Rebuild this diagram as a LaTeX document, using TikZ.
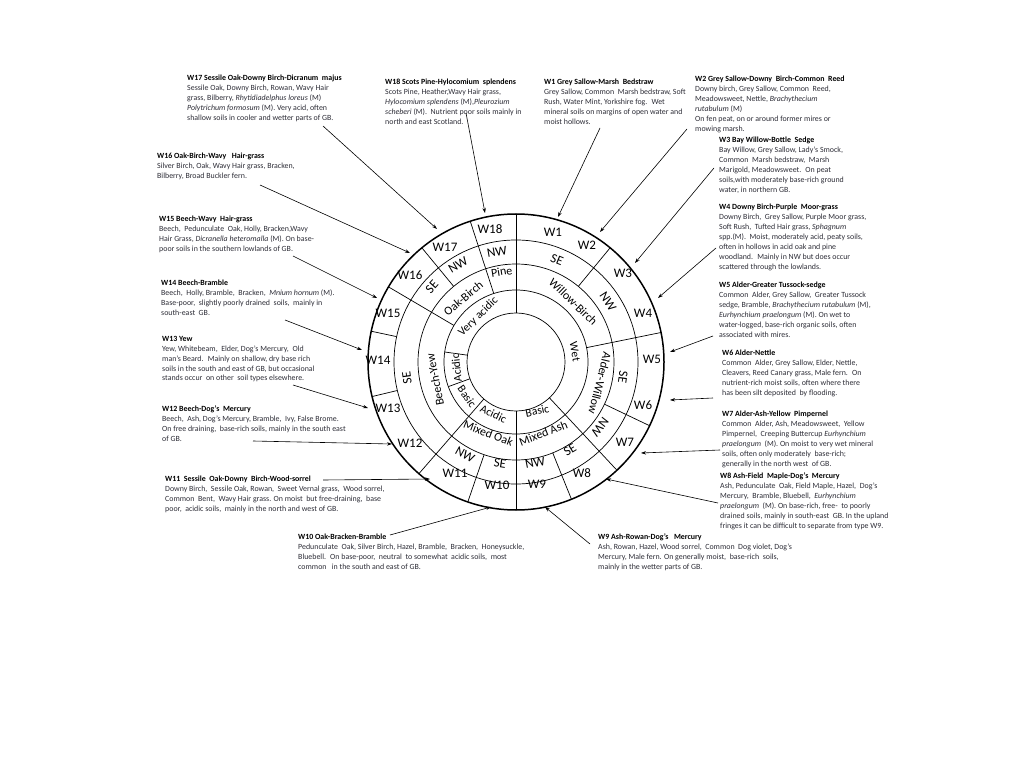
\documentclass[tikz,border=0pt]{standalone}
\usepackage{fontspec}
\setmainfont{Carlito}
\usetikzlibrary{arrows.meta}
\definecolor{bodyc}{RGB}{45,45,55}
\newcommand\blktitle[1]{\textcolor{black}{\textbf{#1}}}
\begin{document}
\begin{tikzpicture}[x=1pt,y=1pt,
 blk/.style={anchor=north west,inner sep=0pt,align=left,font=\fontsize{7.9}{9.9}\selectfont,text=bodyc},
 wl/.style={inner sep=0pt,font=\fontsize{13}{15}\selectfont},
 dl/.style={inner sep=0pt,font=\fontsize{13}{15}\selectfont},
 gl/.style={inner sep=0pt,font=\fontsize{12}{14}\selectfont},
 sl/.style={inner sep=0pt,font=\fontsize{11.5}{13}\selectfont},
 ringline/.style={line width=0.7pt},
 arr/.style={-{Stealth[length=5pt,width=3.4pt]},line width=0.6pt}]
\useasboundingbox[fill=white] (0,0) rectangle (1023,-767);

% ---------------- wheel ----------------
\begin{scope}[shift={(516,-362)}]
 \draw[ringline] (0,0) circle[radius=49];
 \draw[ringline] (0,0) circle[radius=72];
 \draw[ringline] (0,0) circle[radius=98];
 \draw[ringline] (0,0) circle[radius=122];
 \draw[line width=1.5pt] (0,0) circle[radius=148];
 \foreach \a in {90,229,270,313} \draw[ringline] (\a:49) -- (\a:148);
 \foreach \a in {108,149.5,11.5} \draw[ringline] (\a:72) -- (\a:148);
 \foreach \a in {129.5,251,292,334.5,50.5} \draw[ringline] (\a:98) -- (\a:148);
 \foreach \a in {168,193.5} \draw[ringline] (\a:122) -- (\a:148);
 \foreach \a in {172,200} \draw[ringline] (\a:49) -- (\a:72);
\end{scope}

% soil ring
\node[sl,rotate=44] (sva) at (478.3,-316.7) {Very acidic};
\node[sl,rotate=96] (sac1) at (456.5,-368) {Acidic};
\node[sl,rotate=-55.5] (sba1) at (467,-396.5) {Basic};
\node[sl,rotate=-25] (sac2) at (493.5,-414) {Acidic};
\node[sl,rotate=12] (sba2) at (537.3,-411) {Basic};
\node[sl,rotate=-80] (swet) at (575,-351.7) {Wet};

% woodland group ring
\node[gl,rotate=9] (gpine) at (501.7,-271.7) {Pine};
\node[gl,rotate=40] (goak) at (463.3,-298.3) {Oak-Birch};
\node[gl,rotate=101] (gbeech) at (435,-380) {Beech-Yew};
\node[gl,rotate=-21] (gmoak) at (488.3,-433.3) {Mixed Oak};
\node[gl,rotate=21] (gmash) at (543.3,-433.3) {Mixed Ash};
\node[gl,rotate=-104] (galder) at (600,-383.3) {Alder-Willow};
\node[gl,rotate=-44] (gwillow) at (573.3,-301.7) {Willow-Birch};

% NW / SE ring
\node[dl,rotate=10] (d1) at (497,-252) {NW};
\node[dl,rotate=31] (d2) at (458,-265) {NW};
\node[dl,rotate=48] (d3) at (432,-287) {SE};
\node[dl,rotate=98] (d4) at (407,-378) {SE};
\node[dl,rotate=-29] (d5) at (465,-455) {NW};
\node[dl,rotate=-9] (d6) at (500,-463) {SE};
\node[dl,rotate=11] (d7) at (535,-463) {NW};
\node[dl,rotate=31] (d8) at (570,-450) {SE};
\node[dl,rotate=-128] (d9) at (600,-427) {NW};
\node[dl,rotate=-98] (d10) at (623,-377) {SE};
\node[dl,rotate=-57] (d11) at (608,-302) {NW};
\node[dl,rotate=-22] (d12) at (557,-260) {SE};

% W ring
\node[wl] (w18) at (490,-229) {W18};
\node[wl] (w1) at (553,-232) {W1};
\node[wl] (w2) at (587,-245) {W2};
\node[wl] (w3) at (623,-273) {W3};
\node[wl] (w4) at (643,-313) {W4};
\node[wl] (w5) at (652,-359) {W5};
\node[wl] (w6) at (643,-405) {W6};
\node[wl] (w7) at (625,-442) {W7};
\node[wl] (w8) at (582,-473) {W8};
\node[wl] (w9) at (537,-484) {W9};
\node[wl] (w10) at (497,-485) {W10};
\node[wl] (w11) at (455,-473) {W11};
\node[wl] (w12) at (410,-443) {W12};
\node[wl] (w13) at (388,-408) {W13};
\node[wl] (w14) at (378,-360) {W14};
\node[wl] (w15) at (388,-313) {W15};
\node[wl] (w16) at (410,-275) {W16};
\node[wl] (w17) at (445,-247) {W17};

% ---------------- text blocks ----------------
\node[blk] (t17) at (187,-75) {\blktitle{W17 Sessile Oak-Downy Birch-Dicranum \ majus}\\
Sessile Oak, Downy Birch, Rowan, Wavy Hair\\
grass, Bilberry, \textit{Rhytidiadelphus loreus} (M)\\
\textit{Polytrichum formosum} (M). Very acid, often\\
shallow soils in cooler and wetter parts of GB.};

\node[blk] (t18) at (385,-79) {\blktitle{W18 Scots Pine-Hylocomium \ splendens}\\
Scots Pine, Heather,Wavy Hair grass,\\
\textit{Hylocomium splendens} (M),\textit{Pleurozium}\\
\textit{scheberi} (M). \ Nutrient poor soils mainly in\\
north and east Scotland.};

\node[blk] (t1) at (544,-79) {\blktitle{W1 Grey Sallow-Marsh \ Bedstraw}\\
Grey Sallow, Common \ Marsh bedstraw, Soft\\
Rush, Water Mint, Yorkshire fog. \ Wet\\
mineral soils on margins of open water and\\
moist hollows.};

\node[blk] (t2) at (695,-76) {\blktitle{W2 Grey Sallow-Downy \ Birch-Common \ Reed}\\
Downy birch, Grey Sallow, Common \ Reed,\\
Meadowsweet, Nettle, \textit{Brachythecium}\\
\textit{rutabulum} (M)\\
On fen peat, on or around former mires or\\
mowing marsh.};

\node[blk] (t3) at (719,-137) {\blktitle{W3 Bay Willow-Bottle \ Sedge}\\
Bay Willow, Grey Sallow, Lady's Smock,\\
Common \ Marsh bedstraw, \ Marsh\\
Marigold, Meadowsweet. \ On peat\\
soils,with moderately base-rich ground\\
water, in northern GB.};

\node[blk] (t4) at (719,-204) {\blktitle{W4 Downy Birch-Purple \ Moor-grass}\\
Downy Birch, \ Grey Sallow, Purple Moor grass,\\
Soft Rush, \ Tufted Hair grass, \textit{Sphagnum}\\
spp.(M). \ Moist, moderately acid, peaty soils,\\
often in hollows in acid oak and pine\\
woodland. \ Mainly in NW but does occur\\
scattered through the lowlands.};

\node[blk] (t5) at (719,-282) {\blktitle{W5 Alder-Greater Tussock-sedge}\\
Common \ Alder, Grey Sallow, \ Greater Tussock\\
sedge, Bramble, \textit{Brachythecium rutabulum} (M),\\
\textit{Eurhynchium praelongum} (M). On wet to\\
water-logged, base-rich organic soils, often\\
associated with mires.};

\node[blk] (t6) at (722,-350) {\blktitle{W6 Alder-Nettle}\\
Common \ Alder, Grey Sallow, Elder, Nettle,\\
Cleavers, Reed Canary grass, Male fern. \ On\\
nutrient-rich moist soils, often where there\\
has been silt deposited \ by flooding.};

\node[blk] (t7) at (722,-411) {\blktitle{W7 Alder-Ash-Yellow \ Pimpernel}\\
Common \ Alder, Ash, Meadowsweet, \ Yellow\\
Pimpernel, \ Creeping Buttercup \textit{Eurhynchium}\\
\textit{praelongum} \ (M). On moist to very wet mineral\\
soils, often only moderately \ base-rich;\\
generally in the north west \ of GB.};

\node[blk] (t8) at (720,-473) {\blktitle{W8 Ash-Field \ Maple-Dog's \ Mercury}\\
Ash, Pedunculate \ Oak, Field Maple, Hazel, \ Dog's\\
Mercury, \ Bramble, Bluebell, \ \textit{Eurhynchium}\\
\textit{praelongum} \ (M). On base-rich, free- \ to poorly\\
drained soils, mainly in south-east \ GB. In the upland\\
fringes it can be difficult to separate from type W9.};

\node[blk] (t9) at (598,-534) {\blktitle{W9 Ash-Rowan-Dog's \ \ Mercury}\\
Ash, Rowan, Hazel, Wood sorrel, \ Common \ Dog violet, Dog's\\
Mercury, Male fern. On generally moist, \ base-rich \ soils,\\
mainly in the wetter parts of GB.};

\node[blk] (t10) at (298,-534) {\blktitle{W10 Oak-Bracken-Bramble}\\
Pedunculate \ Oak, Silver Birch, Hazel, Bramble, \ Bracken, \ Honeysuckle,\\
Bluebell. \ On base-poor, \ neutral \ to somewhat \ acidic soils, \ most\\
common \ \ in the south and east of GB.};

\node[blk] (t11) at (165,-476) {\blktitle{W11 \ Sessile \ Oak-Downy \ Birch-Wood-sorrel}\\
Downy Birch, \ Sessile Oak, Rowan, \ Sweet Vernal grass, \ Wood sorrel,\\
Common \ Bent, \ Wavy Hair grass. On moist \ but free-draining, \ base\\
poor, \ acidic soils, \ mainly in the north and west of GB.};

\node[blk] (t12) at (162,-406) {\blktitle{W12 Beech-Dog's \ Mercury}\\
Beech, \ Ash, Dog's Mercury, Bramble, \ Ivy, False Brome.\\
On free draining, \ base-rich soils, mainly in the south east\\
of GB.};

\node[blk] (t13) at (162,-336) {\blktitle{W13 Yew}\\
Yew, Whitebeam, \ Elder, Dog's Mercury, \ Old\\
man's Beard. \ Mainly on shallow, dry base rich\\
soils in the south and east of GB, but occasional\\
stands occur \ on other \ soil types elsewhere.};

\node[blk] (t14) at (161,-280) {\blktitle{W14 Beech-Bramble}\\
Beech, \ Holly, Bramble, \ Bracken, \ \textit{Mnium hornum} (M).\\
Base-poor, \ slightly poorly drained \ soils, \ mainly in\\
south-east \ GB.};

\node[blk] (t15) at (159,-216) {\blktitle{W15 Beech-Wavy \ Hair-grass}\\
Beech, \ Pedunculate \ Oak, Holly, Bracken,Wavy\\
Hair Grass, \textit{Dicranella heteromalla} (M). On base-\\
poor soils in the southern lowlands of GB.};

\node[blk] (t16) at (157,-153) {\blktitle{W16 Oak-Birch-Wavy \ \ Hair-grass}\\
Silver Birch, Oak, Wavy Hair grass, Bracken,\\
Bilberry, Broad Buckler fern.};

% ---------------- arrow coordinates ----------------
\coordinate (s17) at (323,-126); \coordinate (e17) at (437,-229);
\coordinate (s18) at (466,-113); \coordinate (e18) at (485,-213);
\coordinate (s1) at (600,-128);  \coordinate (e1) at (558,-217);
\coordinate (s2) at (687,-129);  \coordinate (e2) at (600,-232);
\coordinate (s3) at (714,-168);  \coordinate (e3) at (635,-263);
\coordinate (s4) at (716,-248);  \coordinate (e4) at (658,-298);
\coordinate (s5) at (713,-336);  \coordinate (e5) at (670,-352);
\coordinate (s6) at (713,-398);  \coordinate (e6) at (670,-400);
\coordinate (s7) at (720,-450);  \coordinate (e7) at (641,-453);
\coordinate (s8) at (718,-503);  \coordinate (e8) at (606,-479);
\coordinate (s9) at (590,-544);  \coordinate (e9) at (545,-507);
\coordinate (s10) at (390,-535); \coordinate (e10) at (491,-507);
\coordinate (s11) at (323,-480); \coordinate (e11) at (430,-479);
\coordinate (s12) at (253,-441); \coordinate (e12) at (392,-444);
\coordinate (s13) at (293,-385); \coordinate (e13) at (368,-408);
\coordinate (s14) at (285,-320); \coordinate (e14) at (362,-350);
\coordinate (s15) at (293,-256); \coordinate (e15) at (377,-298);
\coordinate (s16) at (260,-185); \coordinate (e16) at (410,-253);

\foreach \i in {1,...,18} \draw[arr] (s\i) -- (e\i);
\end{tikzpicture}
\end{document}
